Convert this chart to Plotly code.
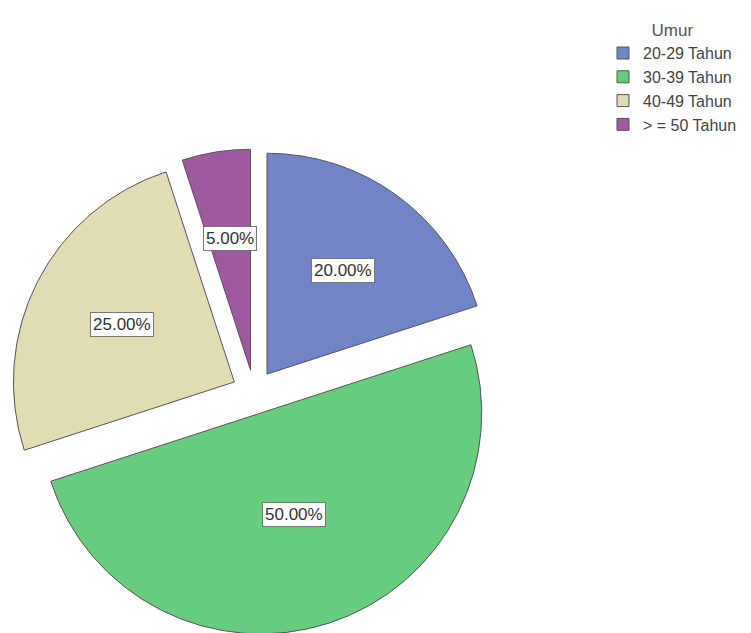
import math
import plotly.graph_objects as go

# ---- data ----
categories = ["20-29 Tahun", "30-39 Tahun", "40-49 Tahun", "> = 50 Tahun"]
values = [20.0, 50.0, 25.0, 5.0]
colors = ["#7284c6", "#68cc7e", "#e0dcb4", "#9e5a9e"]
legend_title = "Umur"

W, H = 751, 633
pull = 0.1
dom_x = [3 / W, 489 / W]
dom_y = [6 / H, 492 / H]

fig = go.Figure(go.Pie(
    labels=categories,
    values=values,
    sort=False,
    direction="clockwise",
    rotation=0,
    pull=[pull] * len(values),
    marker=dict(colors=colors, line=dict(color="#555555", width=1)),
    textinfo="none",
    hoverinfo="label+percent",
    domain=dict(x=dom_x, y=dom_y),
))

# label boxes placed along each slice bisector (derived from the data)
box_w = (dom_x[1] - dom_x[0]) * W
box_h = (dom_y[1] - dom_y[0]) * H
R = min(box_w, box_h) / (2 + 2 * pull)
cx = (dom_x[0] + dom_x[1]) / 2 * W
cy = H - (dom_y[0] + dom_y[1]) / 2 * H
total = sum(values)
cum = 0.0
for v in values:
    frac = v / total
    half = frac * math.pi  # half angle of the slice
    mid = (cum / total) * 2 * math.pi + half
    cum += v
    centroid = 2 * R * math.sin(half) / (3 * half)
    r = 0.5 * centroid + 0.27 * R + pull * R
    px = cx + r * math.sin(mid)
    py = cy - r * math.cos(mid)
    fig.add_annotation(
        x=px / W, y=1 - py / H, xref="paper", yref="paper",
        xanchor="center", yanchor="middle",
        text=f"{frac * 100:.2f}%", showarrow=False,
        font=dict(family="Liberation Sans, Arial", size=17, color="#333333"),
        bgcolor="white", bordercolor="#777777", borderwidth=1, borderpad=2,
    )

fig.update_layout(
    width=W, height=H,
    margin=dict(l=0, r=0, t=0, b=0),
    paper_bgcolor="white",
    font=dict(family="Liberation Sans, Arial", color="#444444"),
    legend=dict(
        x=595 / W, y=1 - 6 / H, xanchor="left", yanchor="top",
        title=dict(text=legend_title, side="top center",
                   font=dict(size=17, color="#555555")),
        font=dict(size=16, color="#444444"),
        tracegroupgap=0,
    ),
)

fig.write_html("out.html")
